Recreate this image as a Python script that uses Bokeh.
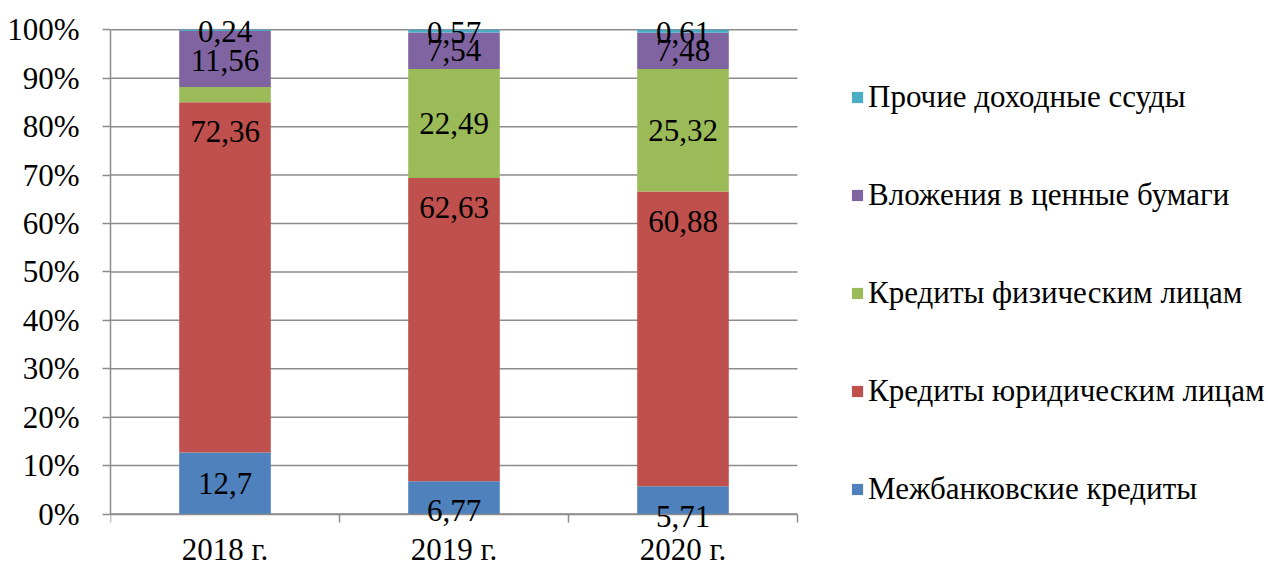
from bokeh.plotting import figure
from bokeh.models import (ColumnDataSource, FixedTicker, Legend, LegendItem,
                          LabelSet, Range1d)
from bokeh.embed import file_html
from bokeh.resources import INLINE

# ---- data ----
years = ["2018 г.", "2019 г.", "2020 г."]
series = ["Межбанковские кредиты", "Кредиты юридическим лицам",
          "Кредиты физическим лицам", "Вложения в ценные бумаги",
          "Прочие доходные ссуды"]
interbank = [12.70, 6.77, 5.71]
legal_entities = [72.36, 62.63, 60.88]
individuals = [3.14, 22.49, 25.32]
securities = [11.56, 7.54, 7.48]
other_loans = [0.24, 0.57, 0.61]
y_ticks = [0, 10, 20, 30, 40, 50, 60, 70, 80, 90, 100]
colors = ["#4F81BD", "#C0504D", "#9BBB59", "#8064A2", "#4BACC6"]
hidden_labels = {(2, 0)}  # individuals in 2018 has no data label

# manual data-label nudges (pixels, + is up), as placed in the original
label_nudge_px = {(1, 0): 146, (1, 1): 122, (1, 2): 117,
                  (0, 1): -13, (0, 2): -16,
                  (4, 0): -1, (3, 0): -2, (4, 1): -1, (4, 2): -1}

values = [interbank, legal_entities, individuals, securities, other_loans]
keys = ["s0", "s1", "s2", "s3", "s4"]
n = len(years)
xs = [i + 0.5 for i in range(n)]

data = {"x": xs}
for k, v in zip(keys, values):
    data[k] = v
source = ColumnDataSource(data)

FONT = "Liberation Serif"
FS = "31px"
grid_col = "#8c8c8c"

W, H = 1268, 567
LEFT, TOP = 110, 12
PLOT_W = 687            # width of the category area in pixels
AXIS_Y = 513.5          # pixel row of the 0% line
frame_w = W - LEFT
px_per_unit = 484.2 / 100.0

p = figure(width=W, height=H, output_backend="svg", toolbar_location=None,
           x_range=Range1d(0, n * frame_w / PLOT_W),
           y_range=Range1d(-(H - AXIS_Y) / px_per_unit,
                           (AXIS_Y - TOP) / px_per_unit),
           min_border_left=LEFT, min_border_right=0, min_border_top=TOP,
           min_border_bottom=0)
p.outline_line_color = None
p.background_fill_color = "white"
p.xgrid.grid_line_color = None
p.ygrid.grid_line_color = None

# horizontal grid lines limited to the category area
p.segment(x0=[0] * len(y_ticks), x1=[n] * len(y_ticks), y0=y_ticks, y1=y_ticks,
          line_color=grid_col, line_width=1.5)

renderers = p.vbar_stack(keys, x="x", width=0.4, color=colors, source=source,
                         line_color=None)

# data labels at segment centres
lx, ly, lt, lo = [], [], [], []
for j in range(n):
    base = 0.0
    for i, v in enumerate(values):
        val = v[j]
        if (i, j) not in hidden_labels:
            lx.append(xs[j])
            ly.append(base + val / 2)
            lt.append(f"{val:g}".replace(".", ","))
            lo.append(label_nudge_px.get((i, j), 0))
        base += val
lab_src = ColumnDataSource(dict(x=lx, y=ly, text=lt, off=lo))
labels = LabelSet(x="x", y="y", text="text", y_offset="off", source=lab_src,
                  text_align="center", text_baseline="middle",
                  text_font=FONT, text_font_size=FS, text_color="black")
p.add_layout(labels)

# axes
p.yaxis.ticker = FixedTicker(ticks=y_ticks, minor_ticks=[])
p.yaxis.bounds = (0, 100)
p.yaxis.major_label_overrides = {t: f"{t}%" for t in y_ticks}
p.yaxis.major_tick_out = 8
p.yaxis.major_tick_in = 0
p.yaxis.minor_tick_line_color = None
p.yaxis.major_label_standoff = 23

p.xaxis.fixed_location = 0
p.xaxis.ticker = FixedTicker(ticks=xs, minor_ticks=list(range(n + 1)))
p.xaxis.bounds = (0, n)
p.xaxis.major_label_overrides = {x: y for x, y in zip(xs, years)}
p.xaxis.major_tick_out = 0
p.xaxis.major_tick_in = 0
p.xaxis.minor_tick_out = 8
p.xaxis.minor_tick_in = 0
p.xaxis.major_label_standoff = 10

for ax in (p.xaxis, p.yaxis):
    ax.axis_line_color = grid_col
    ax.axis_line_width = 1.5
    ax.major_tick_line_color = grid_col
    ax.major_tick_line_width = 1.5
    ax.major_label_text_font = FONT
    ax.major_label_text_font_size = FS
    ax.major_label_text_color = "black"
p.xaxis.minor_tick_line_color = grid_col
p.xaxis.minor_tick_line_width = 1.5

items = [LegendItem(label=series[i], renderers=[renderers[i]])
         for i in reversed(range(len(series)))]
legend = Legend(items=items, location=(740, 7 + (H - AXIS_Y)), glyph_width=14,
                glyph_height=14, label_height=36, spacing=62, padding=0,
                margin=0, border_line_alpha=0, background_fill_alpha=0,
                label_text_font=FONT, label_text_font_size=FS,
                label_text_color="black", label_standoff=4)
p.add_layout(legend)

open("out.html", "w").write(file_html(p, INLINE))
